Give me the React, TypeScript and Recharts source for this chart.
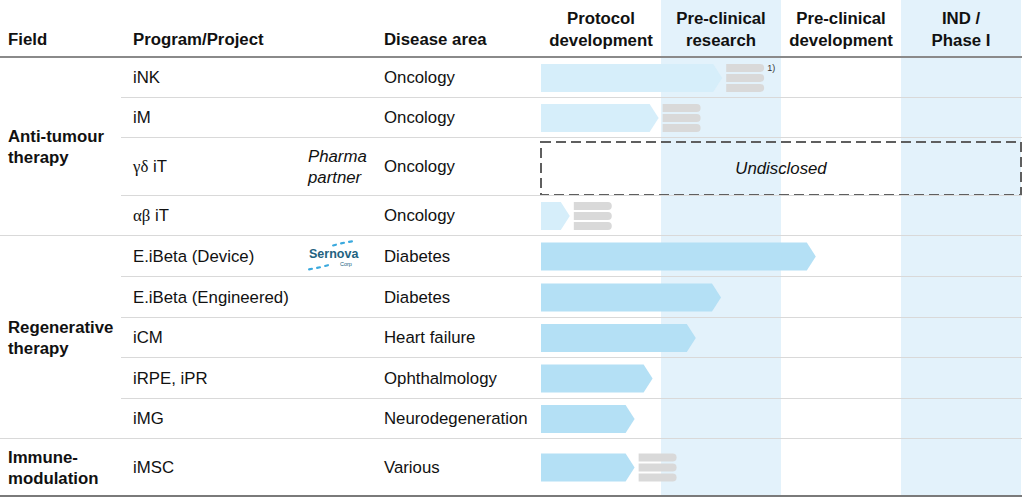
import React from 'react'
import { BarChart, Bar, XAxis, YAxis, ReferenceArea } from 'recharts'

const stages = [
  ['Protocol', 'development'],
  ['Pre-clinical', 'research'],
  ['Pre-clinical', 'development'],
  ['IND /', 'Phase I'],
]

const programs = [
  'iNK',
  'iM',
  'γδ iT',
  'αβ iT',
  'E.iBeta (Device)',
  'E.iBeta (Engineered)',
  'iCM',
  'iRPE, iPR',
  'iMG',
  'iMSC',
]

const diseases = [
  'Oncology',
  'Oncology',
  'Oncology',
  'Oncology',
  'Diabetes',
  'Diabetes',
  'Heart failure',
  'Ophthalmology',
  'Neurodegeneration',
  'Various',
]

// progress in stage units (0 = start of protocol development, 4 = end of IND / Phase I)
const progress = [1.51, 0.98, null, 0.24, 2.29, 1.5, 1.29, 0.93, 0.78, 0.78]
const nextSteps = [true, true, false, true, false, false, false, false, false, true]
const undisclosed = [false, false, true, false, false, false, false, false, false, false]
const notes = ['1)', '', '', '', '', '', '', '', '', '']
const partners = ['', '', 'pharma', '', 'sernova', '', '', '', '', '']

const fields = [
  { label: ['Anti-tumour', 'therapy'], rows: 4, color: '#d6eefa' },
  { label: ['Regenerative', 'therapy'], rows: 5, color: '#b4e0f5' },
  { label: ['Immune-', 'modulation'], rows: 1, color: '#b4e0f5' },
]

const W = 1023
const H = 498
const HEADER = 58
const rowHeights = [40, 40, 58, 40, 41, 41, 40, 41, 40, 57]
const PLOT_LEFT = 541
const FONT = '"Liberation Sans", Arial, sans-serif'
const FS = 16.8

const rowTops: number[] = []
rowHeights.reduce((acc, h) => {
  rowTops.push(acc)
  return acc + h
}, HEADER)
const plotBottom = HEADER + rowHeights.reduce((a, b) => a + b, 0)

const fieldOfRow: number[] = []
fields.forEach((f, fi) => {
  for (let k = 0; k < f.rows; k++) fieldOfRow.push(fi)
})

const rows = programs.map((name, i) => ({
  name,
  mid: rowTops[i] + rowHeights[i] / 2,
  end: progress[i],
  next: nextSteps[i],
  note: notes[i],
  color: fields[fieldOfRow[i]].color,
}))

function Arrow(props: any) {
  const { x, y, width, height, payload } = props
  if (payload.end == null) return <g />
  const tip = 9
  const x1 = x + width
  const body = x1 - tip
  const gx = x1 + 4
  return (
    <g>
      <path
        d={`M${x},${y} H${body} L${x1},${y + height / 2} L${body},${y + height} H${x} Z`}
        fill={payload.color}
      />
      {payload.next &&
        [0, 1, 2].map((k) => {
          const gy = y + k * 10
          return (
            <path
              key={k}
              d={`M${gx},${gy} H${gx + 34} A4,4 0 0 1 ${gx + 34},${gy + 8} H${gx} Z`}
              fill="#d9d9d9"
            />
          )
        })}
      {payload.note && (
        <text x={gx + 41} y={y + 7} fontSize={9} fontFamily={FONT} fill="#333">
          {payload.note}
        </text>
      )}
    </g>
  )
}

function withGreek(s: string) {
  const parts = s.split(/([α-ω]+)/)
  return (
    <span style={{ whiteSpace: 'pre' }}>
      {parts.map((p, i) =>
        /[α-ω]/.test(p) ? (
          <span key={i} style={{ fontFamily: '"Liberation Serif", serif' }}>
            {p}
          </span>
        ) : (
          <React.Fragment key={i}>{p}</React.Fragment>
        )
      )}
    </span>
  )
}

function SernovaLogo() {
  // little blue swoosh dashes above and below the word mark
  const dashes = [
    [27, 5, -15],
    [35, 3, -12],
    [43, 1.5, -8],
    [3, 29, -12],
    [11, 27.5, -12],
    [19, 25.5, -15],
  ]
  return (
    <svg width={58} height={36} style={{ position: 'absolute', left: 305, top: 239 }}>
      {dashes.map(([dx, dy, r], i) => (
        <rect
          key={i}
          x={dx}
          y={dy}
          width={5}
          height={2.2}
          rx={1}
          fill="#3aa9de"
          transform={`rotate(${r} ${dx + 2.5} ${dy + 1})`}
        />
      ))}
      <text x={4} y={19} fontSize={12.5} fontWeight={700} fill="#23627f" fontFamily={FONT}>
        Sernova
      </text>
      <text x={35} y={27} fontSize={5.5} fill="#23627f" fontFamily={FONT}>
        Corp
      </text>
    </svg>
  )
}

export default function App() {
  let groupTop = HEADER
  const groups = fields.map((f, fi) => {
    const start = fieldOfRow.indexOf(fi)
    const h = rowHeights.slice(start, start + f.rows).reduce((a, b) => a + b, 0)
    const g = { ...f, top: groupTop, height: h, start }
    groupTop += h
    return g
  })

  return (
    <div style={{ position: 'absolute', left: 0, top: 0, width: W, height: H, background: '#fff', fontFamily: FONT, color: '#111' }}>
      <BarChart
        layout="vertical"
        width={W}
        height={H}
        data={rows}
        margin={{ top: 0, right: W - 1021, bottom: H - plotBottom, left: PLOT_LEFT }}
      >
        <XAxis type="number" domain={[0, 4]} hide allowDataOverflow />
        <YAxis
          type="number"
          dataKey="mid"
          domain={[0, plotBottom]}
          ticks={rows.map((r) => r.mid)}
          hide
          allowDataOverflow
        />
        <ReferenceArea x1={1} x2={2} y1={0} y2={plotBottom} fill="#e3f2fb" fillOpacity={1} stroke="none" />
        <ReferenceArea x1={3} x2={4} y1={0} y2={plotBottom} fill="#e3f2fb" fillOpacity={1} stroke="none" />
        {rows.map((r, i) =>
          undisclosed[i] ? (
            <ReferenceArea
              key={r.name}
              x1={0}
              x2={4}
              y1={rowTops[i] + 4}
              y2={rowTops[i] + rowHeights[i] - 1}
              fill="none"
              stroke="#5f5f5f"
              strokeWidth={2}
              strokeDasharray="10 5"
              label={{
                value: 'Undisclosed',
                position: 'center',
                fill: '#111',
                fontSize: FS,
                fontStyle: 'italic',
                fontFamily: FONT,
              }}
            />
          ) : null
        )}
        <Bar dataKey="end" barSize={28} shape={<Arrow />} isAnimationActive={false} />
      </BarChart>

      {/* table overlay */}
      <div style={{ position: 'absolute', left: 0, top: 0, width: W, height: H, pointerEvents: 'none', fontSize: FS }}>
        {/* header */}
        <div style={{ position: 'absolute', left: 8, top: 29, fontWeight: 700, lineHeight: '22px' }}>Field</div>
        <div style={{ position: 'absolute', left: 133, top: 29, fontWeight: 700, lineHeight: '22px' }}>Program/Project</div>
        <div style={{ position: 'absolute', left: 384, top: 29, fontWeight: 700, lineHeight: '22px' }}>Disease area</div>
        {stages.map((s, i) => (
          <div
            key={i}
            style={{
              position: 'absolute',
              left: PLOT_LEFT + i * 120,
              width: 120,
              top: 8,
              textAlign: 'center',
              fontWeight: 700,
              lineHeight: '22px',
            }}
          >
            {s[0]}
            <br />
            {s[1]}
          </div>
        ))}
        <div style={{ position: 'absolute', left: 0, top: HEADER - 2, width: 1022, height: 2, background: '#8a8a8a' }} />

        {/* row separators */}
        {rowTops.slice(1).map((t, i) => {
          const full = fieldOfRow[i + 1] !== fieldOfRow[i]
          const left = full ? 0 : 121
          return (
            <div
              key={i}
              style={{ position: 'absolute', left, top: t - 1, width: 1022 - left, height: 1, background: '#d9d9d9' }}
            />
          )
        })}
        <div style={{ position: 'absolute', left: 0, top: plotBottom - 1, width: 1022, height: 2, background: '#7a7a7a' }} />

        {/* field labels */}
        {groups.map((g, i) => (
          <div
            key={i}
            style={{
              position: 'absolute',
              left: 8,
              top: g.top,
              height: g.height,
              display: 'flex',
              alignItems: 'center',
              fontWeight: 700,
              lineHeight: '21px',
            }}
          >
            <div>
              {g.label[0]}
              <br />
              {g.label[1]}
            </div>
          </div>
        ))}

        {/* program and disease */}
        {programs.map((p, i) => (
          <React.Fragment key={p}>
            <div
              style={{
                position: 'absolute',
                left: 133,
                top: rowTops[i],
                height: rowHeights[i],
                display: 'flex',
                alignItems: 'center',
              }}
            >
              {withGreek(p)}
            </div>
            <div
              style={{
                position: 'absolute',
                left: 384,
                top: rowTops[i],
                height: rowHeights[i],
                display: 'flex',
                alignItems: 'center',
              }}
            >
              {diseases[i]}
            </div>
            {partners[i] === 'pharma' && (
              <div
                style={{
                  position: 'absolute',
                  left: 308,
                  top: rowTops[i],
                  height: rowHeights[i],
                  display: 'flex',
                  alignItems: 'center',
                  fontStyle: 'italic',
                  lineHeight: '21px',
                }}
              >
                <div>
                  Pharma
                  <br />
                  partner
                </div>
              </div>
            )}
          </React.Fragment>
        ))}
        <SernovaLogo />
      </div>
    </div>
  )
}
